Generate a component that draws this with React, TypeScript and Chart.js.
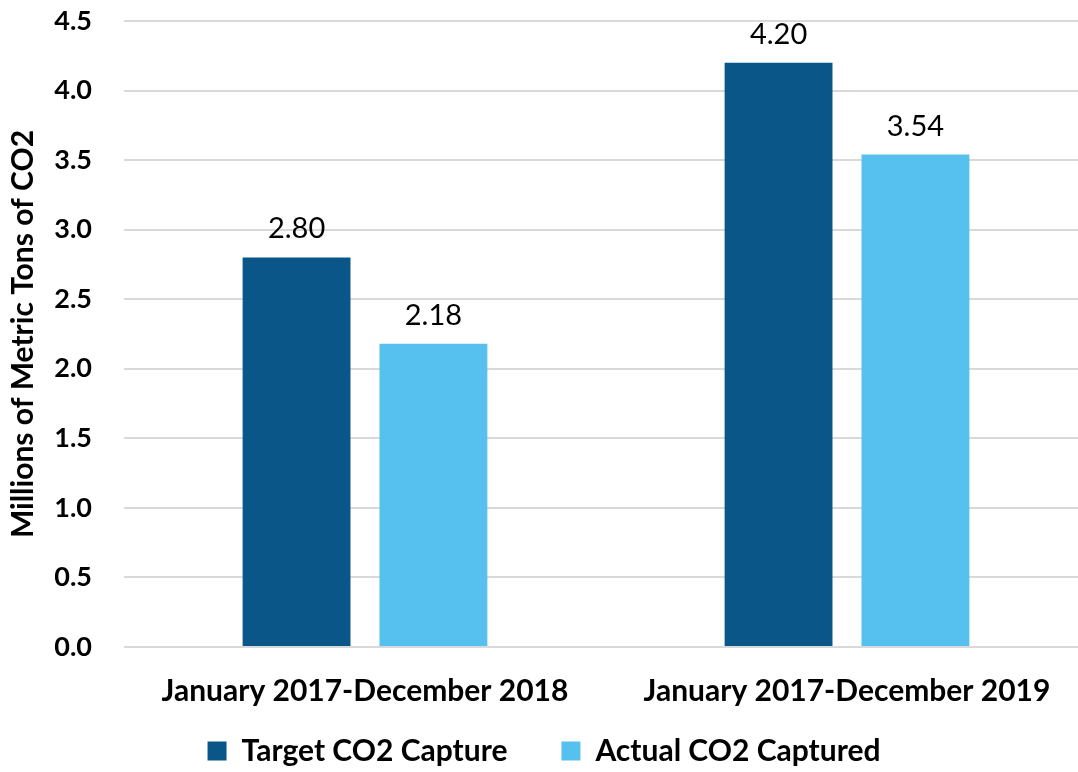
import React, { useEffect, useRef } from "react";
import { Chart, registerables } from "chart.js";

Chart.register(...registerables);

const categories = ["January 2017-December 2018", "January 2017-December 2019"];
const seriesNames = ["Target CO2 Capture", "Actual CO2 Captured"];
const targetValues = [2.8, 4.2];
const actualValues = [2.18, 3.54];
const seriesColors = ["#0B5689", "#56C1EE"];
const yAxisTitle = "Millions of Metric Tons of CO2";

const FONT = "Lato, 'Open Sans', sans-serif";

const dataLabels = {
  id: "dataLabels",
  afterDatasetsDraw(chart: any) {
    const ctx = chart.ctx;
    ctx.save();
    ctx.font = `normal 29px ${FONT}`;
    ctx.fillStyle = "#000000";
    ctx.textAlign = "center";
    ctx.textBaseline = "alphabetic";
    chart.data.datasets.forEach((ds: any, i: number) => {
      const meta = chart.getDatasetMeta(i);
      meta.data.forEach((bar: any, j: number) => {
        ctx.fillText(Number(ds.data[j]).toFixed(2), bar.x, bar.y - 19);
      });
    });
    ctx.restore();
  },
};

export default function App() {
  const ref = useRef<HTMLCanvasElement>(null);
  useEffect(() => {
    document.body.style.margin = "0";
    const chart = new Chart(ref.current!, {
      type: "bar",
      data: {
        labels: categories,
        datasets: [
          { label: seriesNames[0], data: targetValues, backgroundColor: seriesColors[0] },
          { label: seriesNames[1], data: actualValues, backgroundColor: seriesColors[1] },
        ],
      },
      options: {
        animation: false,
        responsive: false,
        maintainAspectRatio: false,
        categoryPercentage: 0.568,
        barPercentage: 0.788,
        layout: { padding: { top: 21, right: 0, left: 0, bottom: -4 } },
        plugins: {
          legend: {
            position: "bottom",
            labels: {
              font: { family: FONT, size: 30, weight: "bold" },
              color: "#000000",
              boxWidth: 19,
              boxHeight: 19,
              padding: 54,
            },
          },
          tooltip: { enabled: false },
        },
        scales: {
          x: {
            grid: { display: false },
            border: { display: false },
            ticks: {
              font: { family: FONT, size: 30, weight: "bold" },
              color: "#000000",
              padding: 18,
              maxRotation: 0,
            },
            afterFit: (scale: any) => {
              scale.height = scale.height - 45;
              scale._computeLabelArea = () => undefined;
            },
          },
          y: {
            min: 0,
            max: 4.5,
            ticks: {
              stepSize: 0.5,
              font: { family: FONT, size: 27, weight: "bold" },
              color: "#000000",
              padding: 32,
              callback: (v: any) => Number(v).toFixed(1),
            },
            grid: { color: "#D9D9D9", lineWidth: 2, drawTicks: false },
            border: { display: false },
            title: {
              display: true,
              text: yAxisTitle,
              font: { family: FONT, size: 30, weight: "bold" },
              color: "#000000",
              padding: { top: 5, bottom: 0 },
            },
            afterFit: (scale: any) => {
              scale.width = 124;
              scale.paddingTop = 0;
              scale.paddingBottom = 0;
            },
          },
        },
      },
      plugins: [dataLabels],
    });
    return () => chart.destroy();
  }, []);
  return (
    <div style={{ position: "fixed", left: 0, top: 0, width: 1078, height: 772, overflow: "hidden" }}>
      <canvas ref={ref} width={1088} height={772} style={{ width: 1088, height: 772 }} />
    </div>
  );
}
